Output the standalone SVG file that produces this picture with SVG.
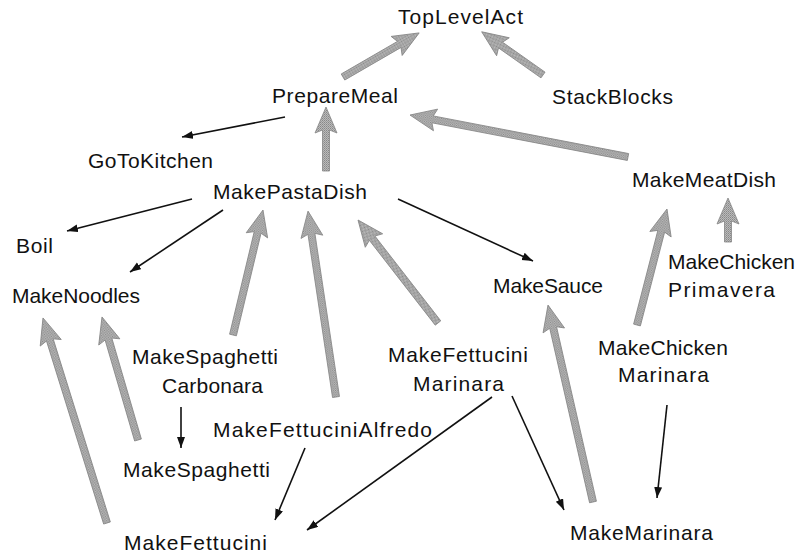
<svg xmlns="http://www.w3.org/2000/svg" width="798" height="555" viewBox="0 0 798 555">
<style>
  text { font-family: "Liberation Sans", Arial, sans-serif; font-size: 21px; fill: #111; }
  .inh path { fill: url(#dither); stroke: #858585; stroke-width: 0.8; stroke-linejoin: round; }
  .call line { stroke: #111; stroke-width: 1.6; marker-end: url(#ah); }
</style>
<defs>
  <pattern id="dither" width="2" height="2" patternUnits="userSpaceOnUse">
    <rect width="2" height="2" fill="#bababa"/>
    <rect width="1" height="1" fill="#888888"/>
    <rect x="1" y="1" width="1" height="1" fill="#9a9a9a"/>
  </pattern>
  <marker id="ah" markerUnits="userSpaceOnUse" markerWidth="12" markerHeight="9" refX="11" refY="4" orient="auto">
    <path d="M0,0 L11,4 L0,8 Z" fill="#111"/>
  </marker>
</defs>
<rect width="798" height="555" fill="#fff"/>

<g id="connectors">
  <g class="inh">
    <path transform="translate(343,77) rotate(-30.07)" d="M0,-3.5 L65,-3.5 L62,-11 L88,0 L62,11 L65,3.5 L0,3.5 Z"/>
    <path transform="translate(543,75) rotate(-144.82)" d="M0,-3.5 L52,-3.5 L49,-11 L75,0 L49,11 L52,3.5 L0,3.5 Z"/>
    <path transform="translate(326,171) rotate(-90)" d="M0,-3.5 L41,-3.5 L38,-11 L64,0 L38,11 L41,3.5 L0,3.5 Z"/>
    <path transform="translate(628,157) rotate(-169.1)" d="M0,-3.5 L199,-3.5 L196,-11 L222,0 L196,11 L199,3.5 L0,3.5 Z"/>
    <path transform="translate(233,335) rotate(-76.5)" d="M0,-3.5 L105.5,-3.5 L102.5,-11 L128.5,0 L102.5,11 L105.5,3.5 L0,3.5 Z"/>
    <path transform="translate(336,397) rotate(-98.56)" d="M0,-3.5 L165,-3.5 L162,-11 L188,0 L162,11 L165,3.5 L0,3.5 Z"/>
    <path transform="translate(438,323) rotate(-127.83)" d="M0,-3.5 L107.4,-3.5 L104.4,-11 L130.4,0 L104.4,11 L107.4,3.5 L0,3.5 Z"/>
    <path transform="translate(637,325) rotate(-75.5)" d="M0,-3.5 L96.8,-3.5 L93.8,-11 L119.8,0 L93.8,11 L96.8,3.5 L0,3.5 Z"/>
    <path transform="translate(728,242) rotate(-90)" d="M0,-3.5 L21,-3.5 L18,-11 L44,0 L18,11 L21,3.5 L0,3.5 Z"/>
    <path transform="translate(593,502) rotate(-102.87)" d="M0,-3.5 L179,-3.5 L176,-11 L202,0 L176,11 L179,3.5 L0,3.5 Z"/>
    <path transform="translate(138,440) rotate(-106.31)" d="M0,-3.5 L105.2,-3.5 L102.2,-11 L128.2,0 L102.2,11 L105.2,3.5 L0,3.5 Z"/>
    <path transform="translate(107,523) rotate(-107.34)" d="M0,-3.5 L191.8,-3.5 L188.8,-11 L214.8,0 L188.8,11 L191.8,3.5 L0,3.5 Z"/>
  </g>
  <g class="call">
    <line x1="285" y1="117" x2="182" y2="137"/>
    <line x1="192" y1="199" x2="67" y2="231"/>
    <line x1="223" y1="210" x2="130" y2="272"/>
    <line x1="398" y1="199" x2="533" y2="261"/>
    <line x1="181" y1="407" x2="181" y2="448"/>
    <line x1="305" y1="448" x2="275" y2="520"/>
    <line x1="492" y1="397" x2="307" y2="530"/>
    <line x1="512" y1="396" x2="564" y2="510"/>
    <line x1="667" y1="405" x2="657" y2="498"/>
  </g>
</g>

<g id="TopLevelAct"><text x="398" y="24" textLength="125" lengthAdjust="spacing">TopLevelAct</text></g>
<g id="PrepareMeal"><text x="272" y="103" textLength="126" lengthAdjust="spacing">PrepareMeal</text></g>
<g id="StackBlocks"><text x="552" y="104" textLength="121" lengthAdjust="spacing">StackBlocks</text></g>
<g id="GoToKitchen"><text x="88" y="168" textLength="125" lengthAdjust="spacing">GoToKitchen</text></g>
<g id="MakePastaDish"><text x="213" y="199" textLength="154" lengthAdjust="spacing">MakePastaDish</text></g>
<g id="MakeMeatDish"><text x="632" y="187" textLength="144" lengthAdjust="spacing">MakeMeatDish</text></g>
<g id="Boil"><text x="16" y="253" textLength="37" lengthAdjust="spacing">Boil</text></g>
<g id="MakeNoodles"><text x="12" y="303" textLength="128" lengthAdjust="spacing">MakeNoodles</text></g>
<g id="MakeSauce"><text x="493" y="293" textLength="110" lengthAdjust="spacing">MakeSauce</text></g>
<g id="MakeChickenPrimavera">
  <text x="668" y="269" textLength="127" lengthAdjust="spacing">MakeChicken</text>
  <text x="668" y="297" textLength="107" lengthAdjust="spacing">Primavera</text>
</g>
<g id="MakeSpaghettiCarbonara">
  <text x="132" y="364" textLength="146" lengthAdjust="spacing">MakeSpaghetti</text>
  <text x="162" y="393" textLength="101" lengthAdjust="spacing">Carbonara</text>
</g>
<g id="MakeFettuciniMarinara">
  <text x="388" y="362" textLength="140" lengthAdjust="spacing">MakeFettucini</text>
  <text x="413" y="391" textLength="91" lengthAdjust="spacing">Marinara</text>
</g>
<g id="MakeChickenMarinara">
  <text x="598" y="355" textLength="130" lengthAdjust="spacing">MakeChicken</text>
  <text x="618" y="382" textLength="91" lengthAdjust="spacing">Marinara</text>
</g>
<g id="MakeFettuciniAlfredo"><text x="213" y="437" textLength="219" lengthAdjust="spacing">MakeFettuciniAlfredo</text></g>
<g id="MakeSpaghetti"><text x="123" y="477" textLength="147" lengthAdjust="spacing">MakeSpaghetti</text></g>
<g id="MakeFettucini"><text x="124" y="550" textLength="143" lengthAdjust="spacing">MakeFettucini</text></g>
<g id="MakeMarinara"><text x="570" y="540" textLength="143" lengthAdjust="spacing">MakeMarinara</text></g>
</svg>
